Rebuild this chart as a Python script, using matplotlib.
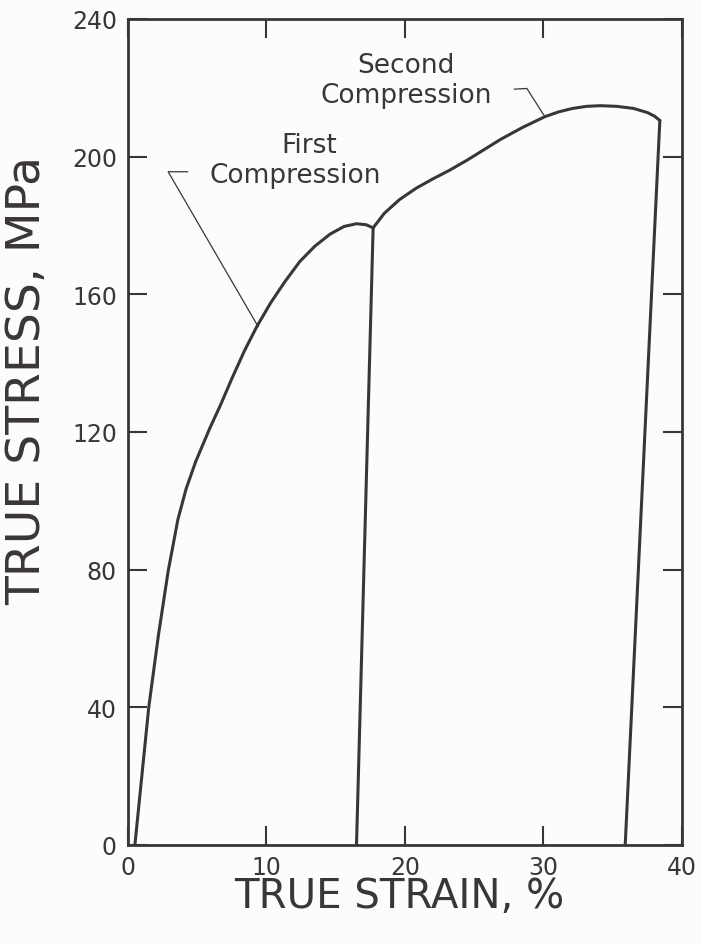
import matplotlib
matplotlib.use("Agg")
import matplotlib.pyplot as plt

# first compression: loading curve, then unloading line
first_strain = [0.5, 1.0, 1.5, 2.2, 2.9, 3.6, 4.2, 4.9, 5.9, 6.7, 7.5, 8.4, 9.3, 10.3,
                11.3, 12.4, 13.5, 14.6, 15.6, 16.5, 17.2, 17.7]
first_stress = [0, 20, 40, 61, 79.5, 94.5, 103.5, 111.5, 121, 128, 135.5, 143.5, 150.6, 157.5,
                163.5, 169.5, 174, 177.5, 179.7, 180.5, 180.2, 179.3]
unload1_strain = [17.7, 16.5]
unload1_stress = [179.3, 0]

# second compression: reloading curve, then unloading line
second_strain = [17.7, 18.5, 19.6, 20.8, 22.0, 23.2, 24.5, 25.7, 26.9, 28.5, 30.1, 31.1,
                 32.1, 33.1, 34.1, 35.3, 36.5, 37.5, 38.0, 38.4]
second_stress = [179.3, 183.5, 187.5, 190.8, 193.5, 196, 199, 202, 205, 208.5, 211.6, 213,
                 214, 214.6, 214.8, 214.6, 214, 212.8, 211.8, 210.5]
unload2_strain = [38.4, 35.9]
unload2_stress = [210.5, 0]

xticks = [0, 10, 20, 30, 40]
yticks = [0, 40, 80, 120, 160, 200, 240]

ink = "#3b3636"
paper = "#fcfcfa"

plt.rcParams['font.family'] = ['DejaVu Sans']

fig = plt.figure(figsize=(7.02, 9.45), dpi=100, facecolor=paper)
ax = fig.add_axes([0.1823, 0.1048, 0.7892, 0.8741])
ax.set_facecolor(paper)

lw = 2.2
for xs, ys in [(first_strain, first_stress), (unload1_strain, unload1_stress),
               (second_strain, second_stress), (unload2_strain, unload2_stress)]:
    ax.plot(xs, ys, color=ink, lw=lw, solid_capstyle='round', solid_joinstyle='round')

ax.set_xlim(0, 40)
ax.set_ylim(0, 240)
ax.set_xticks(xticks)
ax.set_yticks(yticks)
ax.tick_params(direction='in', length=14, width=1.5, color=ink,
               top=True, right=True, labelsize=17, labelcolor=ink)
ax.tick_params(axis='y', pad=8)
ax.tick_params(axis='x', pad=7)
for s in ax.spines.values():
    s.set_color(ink)
    s.set_linewidth(2.0)

ax.set_xlabel("TRUE STRAIN, %", fontsize=29, color=ink)
ax.xaxis.set_label_coords(0.49, -0.038)
ax.set_ylabel("TRUE STRESS, MPa", fontsize=34, color=ink)
ax.yaxis.set_label_coords(-0.14, 0.563)

# leader lines and labels
ax.plot([4.3, 2.9, 9.4], [195.6, 195.6, 150.6], color=ink, lw=0.9)
ax.text(13.1, 203.4, "First", fontsize=19, color=ink, ha='center', va='center')
ax.text(12.1, 194.8, "Compression", fontsize=19, color=ink, ha='center', va='center')

ax.plot([27.9, 28.8, 30.1], [219.6, 219.8, 211.6], color=ink, lw=0.9)
ax.text(20.1, 226.6, "Second", fontsize=19, color=ink, ha='center', va='center')
ax.text(20.1, 218.0, "Compression", fontsize=19, color=ink, ha='center', va='center')

fig.savefig("out.png", dpi=100, facecolor=paper)
